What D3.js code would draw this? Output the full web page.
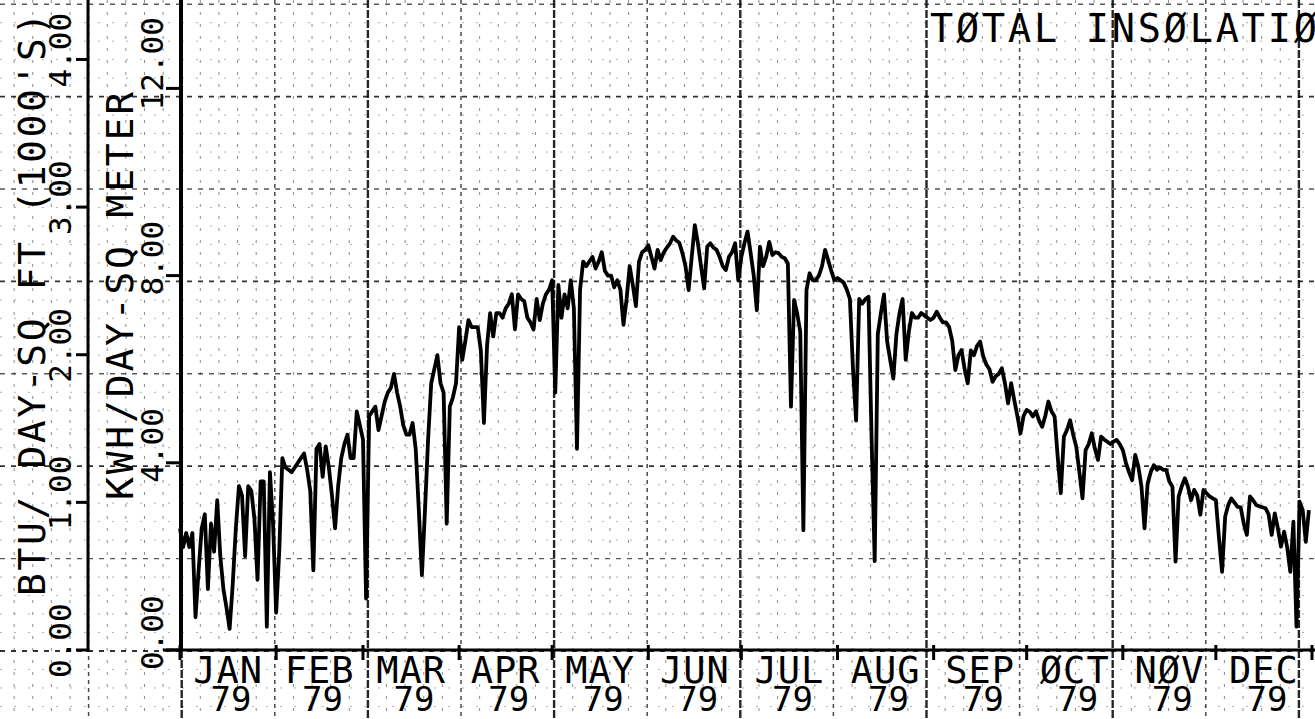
<!DOCTYPE html>
<html>
<head>
<meta charset="utf-8">
<script src="https://cdn.jsdelivr.net/npm/d3@7"></script>
<style>
  html, body { margin: 0; padding: 0; background: #fff; overflow: hidden; }
  svg text { font-family: "DejaVu Sans Mono", monospace; fill: #000; }
</style>
</head>
<body>
<script>
const width = 1315;
const height = 719;

// daily total insolation, kWh per sq metre per day
const jan = [2.6, 2.2, 2.5, 2.2, 2.5, 0.7, 1.7, 2.6, 2.9, 1.3, 2.7, 2.1, 3.2, 2.0, 1.3, 0.9, 0.45, 1.4, 2.6, 3.5, 3.3, 2.0, 3.5, 3.4, 2.8, 1.5, 3.6, 3.6, 0.5, 3.8, 2.7];
const feb = [0.8, 2.1, 4.1, 3.9, 3.85, 3.8, 3.9, 4.0, 4.1, 4.2, 3.85, 3.4, 1.7, 4.3, 4.4, 3.7, 4.35, 3.9, 3.3, 2.6, 3.5, 4.1, 4.4, 4.6, 4.1, 4.1, 5.1, 4.8];
const mar = [4.5, 1.1, 5.0, 5.1, 5.2, 4.7, 5.0, 5.3, 5.5, 5.6, 5.9, 5.5, 5.2, 4.8, 4.6, 4.6, 4.85, 4.3, 3.0, 1.6, 3.0, 4.5, 5.7, 6.0, 6.3, 5.7, 5.5, 2.7, 5.2, 5.4, 5.7];
const apr = [6.9, 6.2, 6.6, 7.05, 6.9, 6.9, 6.9, 6.4, 4.85, 6.5, 7.2, 6.7, 7.2, 7.2, 7.1, 7.3, 7.4, 7.6, 6.85, 7.6, 7.5, 7.45, 7.1, 7.0, 6.85, 7.5, 7.05, 7.4, 7.6, 7.7];
const may = [7.9, 5.5, 7.8, 7.1, 7.6, 7.3, 7.9, 7.3, 4.3, 7.7, 8.3, 8.2, 8.3, 8.4, 8.15, 8.3, 8.5, 8.1, 8.0, 8.0, 7.75, 7.9, 7.7, 6.95, 7.5, 8.2, 7.8, 7.35, 8.3, 8.5, 8.55];
const jun = [8.65, 8.4, 8.15, 8.55, 8.33, 8.5, 8.6, 8.69, 8.83, 8.75, 8.7, 8.48, 8.2, 7.69, 8.4, 9.08, 8.69, 8.2, 7.73, 8.62, 8.69, 8.6, 8.55, 8.4, 8.2, 8.12, 8.4, 8.5, 8.69, 7.9];
const jul = [8.4, 8.69, 8.94, 8.48, 8.0, 7.26, 8.62, 8.2, 8.4, 8.72, 8.44, 8.5, 8.48, 8.4, 8.37, 8.26, 5.2, 7.48, 7.19, 6.8, 2.56, 7.69, 8.05, 7.9, 7.9, 8.0, 8.2, 8.55, 8.33, 8.1, 7.9];
const aug = [7.95, 7.9, 7.85, 7.7, 7.5, 6.0, 4.9, 7.5, 7.4, 7.5, 7.55, 4.5, 1.9, 6.75, 7.2, 7.6, 6.6, 6.2, 5.8, 6.75, 7.2, 7.5, 6.2, 6.8, 7.2, 7.1, 7.1, 7.2, 7.15, 7.1, 7.05];
const sep = [7.1, 7.23, 7.1, 7.0, 7.0, 6.9, 6.6, 5.98, 6.3, 6.41, 6.0, 5.7, 6.4, 6.3, 6.5, 6.59, 6.27, 6.1, 6.0, 5.73, 5.85, 5.9, 6.02, 5.7, 5.27, 5.7, 5.34, 5.0, 4.63, 5.0];
const oct = [5.13, 5.09, 4.99, 5.1, 4.9, 4.77, 5.0, 5.31, 5.1, 4.99, 4.13, 3.35, 4.56, 4.7, 4.91, 4.6, 4.34, 3.8, 3.24, 4.27, 4.4, 4.63, 4.3, 4.06, 4.56, 4.5, 4.45, 4.4, 4.45, 4.49, 4.4];
const nov = [4.27, 4.0, 3.8, 3.63, 4.17, 3.92, 3.5, 2.6, 3.56, 3.8, 3.95, 3.85, 3.9, 3.85, 3.85, 3.6, 3.49, 1.89, 3.28, 3.5, 3.67, 3.49, 3.2, 3.42, 3.3, 2.89, 3.42, 3.35, 3.28, 3.24];
const dec = [3.2, 2.4, 1.67, 2.85, 3.1, 3.24, 3.15, 3.06, 3.05, 2.7, 2.46, 3.28, 3.2, 3.1, 3.07, 3.05, 3.03, 2.9, 2.46, 2.92, 2.6, 2.21, 2.53, 2.2, 1.67, 2.74, 0.5, 3.17, 2.99, 2.31, 2.99];

const monthNames = ["JAN", "FEB", "MAR", "APR", "MAY", "JUN", "JUL", "AUG", "SEP", "ØCT", "NØV", "DEC"];
const yearLabel = "79";
const kwhTicks = [0, 4, 8, 12];
const btuTicks = [0, 1, 2, 3, 4];
const kwhTickLabels = ["0.00", "4.00", "8.00", "12.00"];
const btuTickLabels = ["0.00", "1.00", "2.00", "3.00", "4.00"];
const titleText = "TØTAL INSØLATIØN";
const kwhTitle = "KWH/DAY-SQ METER";
const btuTitle = "BTU/ DAY-SQ FT (1000'S)";
const kwhPerKbtu = 3.1546; // 1000 BTU/sq ft = 3.1546 kWh/sq m

const daily = [].concat(jan, feb, mar, apr, may, jun, jul, aug, sep, oct, nov, dec);
const start = new Date(1979, 0, 1);
const end = new Date(1980, 0, 1);

const x = d3.scaleTime().domain([start, end]).range([180, 1312]);
const y = d3.scaleLinear().domain([0, 12]).range([650, 88.4]);
const yBtu = d3.scaleLinear().domain([0, 4]).range([y(0), y(4 * kwhPerKbtu)]);

// the printed graph paper has its own square pitch, not tied to the data axes
const paperX = d3.scaleLinear().domain([0, 1]).range([181.7, 274.8]);
const paperY = d3.scaleLinear().domain([0, 1]).range([651, 558.6]);

const svg = d3.select("body")
    .append("svg")
    .attr("width", width)
    .attr("height", height)
    .style("background", "#fff");

// graph paper
const grid = svg.append("g").attr("class", "grid");

d3.range(-2, 14.01, 0.2).forEach(v => {
    const k = Math.round(v * 5);
    const xv = paperX(k / 5);
    if (k % 5 !== 0) {
        grid.append("line")
            .attr("x1", xv).attr("x2", xv)
            .attr("y1", 0).attr("y2", height)
            .attr("stroke", "#000")
            .attr("stroke-width", 1)
            .attr("stroke-dasharray", "3,9")
            .attr("opacity", 0.45);
    } else {
        const bold = (k / 5) % 2 === 0;
        grid.append("line")
            .attr("x1", xv).attr("x2", xv)
            .attr("y1", 0).attr("y2", height)
            .attr("stroke", "#000")
            .attr("stroke-width", bold ? 2.4 : 1.5)
            .attr("stroke-dasharray", bold ? "8,2" : "4,4")
            .attr("opacity", bold ? 0.85 : 0.7);
    }
});

d3.range(-1, 8.01, 0.2).forEach(v => {
    const k = Math.round(v * 5);
    const yv = paperY(k / 5);
    const major = k % 5 === 0;
    const bold = major && (k / 5) % 2 === 0;
    grid.append("line")
        .attr("x1", 0).attr("x2", width)
        .attr("y1", yv).attr("y2", yv)
        .attr("stroke", "#000")
        .attr("stroke-width", major ? (bold ? 1.8 : 1.4) : 1)
        .attr("stroke-dasharray", major ? "5,6" : "2,12")
        .attr("opacity", major ? (bold ? 0.8 : 0.65) : 0.3);
});

// axes
const axes = svg.append("g").attr("class", "axes");

axes.append("line")
    .attr("x1", 181).attr("x2", 181)
    .attr("y1", 0).attr("y2", y(0) + 1)
    .attr("stroke", "#000").attr("stroke-width", 4);

axes.append("line")
    .attr("x1", 88).attr("x2", 88)
    .attr("y1", 0).attr("y2", yBtu(0) + 2)
    .attr("stroke", "#000").attr("stroke-width", 3);

axes.append("line")
    .attr("x1", 163).attr("x2", width)
    .attr("y1", y(0)).attr("y2", y(0))
    .attr("stroke", "#000").attr("stroke-width", 3);

axes.selectAll(".kwh-tick")
    .data(kwhTicks)
    .enter()
    .append("line")
    .attr("class", "kwh-tick")
    .attr("x1", 166).attr("x2", 181)
    .attr("y1", d => y(d)).attr("y2", d => y(d))
    .attr("stroke", "#000").attr("stroke-width", 3);

axes.selectAll(".btu-tick")
    .data(btuTicks)
    .enter()
    .append("line")
    .attr("class", "btu-tick")
    .attr("x1", 76).attr("x2", 88)
    .attr("y1", d => yBtu(d)).attr("y2", d => yBtu(d))
    .attr("stroke", "#000").attr("stroke-width", 3);

const monthStarts = d3.timeMonth.range(start, d3.timeMonth.offset(end, 1));
axes.selectAll(".month-tick")
    .data(monthStarts)
    .enter()
    .append("line")
    .attr("class", "month-tick")
    .attr("x1", d => x(d)).attr("x2", d => x(d))
    .attr("y1", y(0) - 5).attr("y2", y(0) + 10)
    .attr("stroke", "#000").attr("stroke-width", 3);

// tick labels
axes.selectAll(".kwh-label")
    .data(kwhTicks)
    .enter()
    .append("text")
    .attr("class", "kwh-label")
    .attr("transform", (d, i) => `translate(163, ${y(d) + 20 + (kwhTickLabels[i].length - 4) * 2}) rotate(-90)`)
    .attr("font-size", 31)
    .text((d, i) => kwhTickLabels[i]);

axes.selectAll(".btu-label")
    .data(btuTicks)
    .enter()
    .append("text")
    .attr("class", "btu-label")
    .attr("transform", d => `translate(71, ${yBtu(d) + 28}) rotate(-90)`)
    .attr("font-size", 31)
    .text((d, i) => btuTickLabels[i]);

// axis titles
svg.append("text")
    .attr("transform", "translate(133, 500) rotate(-90)")
    .attr("font-size", 38)
    .attr("letter-spacing", 2.8)
    .text(kwhTitle);

svg.append("text")
    .attr("transform", "translate(45, 596) rotate(-90)")
    .attr("font-size", 38)
    .attr("letter-spacing", 2.6)
    .text(btuTitle);

svg.append("text")
    .attr("x", 930)
    .attr("y", 42)
    .attr("font-size", 38.5)
    .attr("letter-spacing", 2.8)
    .text(titleText);

// month labels, two lines each
const months = d3.timeMonth.range(start, end);
const monthLabels = svg.append("g").attr("class", "month-labels");
months.forEach((m, i) => {
    const cx = (x(m) + x(d3.timeMonth.offset(m, 1))) / 2;
    const t = monthLabels.append("text")
        .attr("text-anchor", "middle");
    t.append("tspan")
        .attr("x", cx)
        .attr("y", 683)
        .attr("font-size", 37)
        .attr("letter-spacing", 1)
        .text(monthNames[i]);
    t.append("tspan")
        .attr("x", cx + 3)
        .attr("y", 711)
        .attr("font-size", 34)
        .text(yearLabel);
});

// the data line
const line = d3.line()
    .x((d, i) => x(d3.timeDay.offset(start, i)))
    .y(d => y(d));

svg.append("path")
    .datum(daily)
    .attr("d", line)
    .attr("fill", "none")
    .attr("stroke", "#000")
    .attr("stroke-width", 3.8)
    .attr("stroke-linejoin", "round");
</script>
</body>
</html>
